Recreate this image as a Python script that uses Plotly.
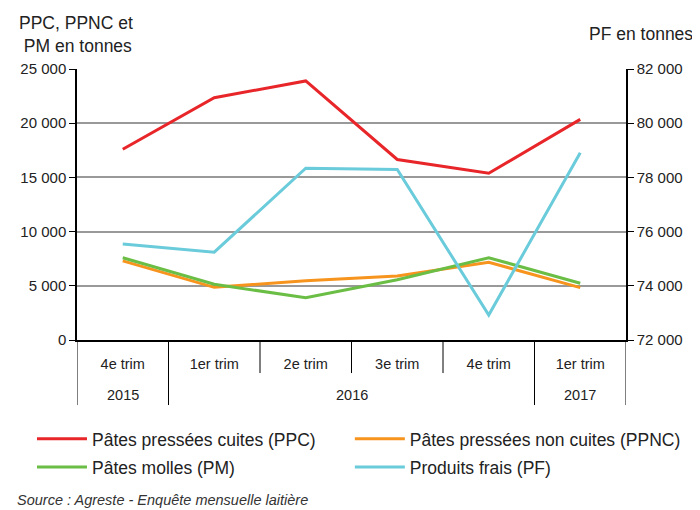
import plotly.graph_objects as go

years = ["2015", "2016", "2016", "2016", "2016", "2017"]
quarters = ["4e trim", "1er trim", "2e trim", "3e trim", "4e trim", "1er trim"]

ppc = [17600, 22350, 23900, 16650, 15380, 20350]
ppnc = [7300, 4860, 5470, 5900, 7170, 4830]
pm = [7590, 5140, 3900, 5560, 7590, 5230]
pf = [75540, 75240, 78340, 78290, 72920, 78910]

left_ticks = [0, 5000, 10000, 15000, 20000, 25000]
right_ticks = [72000, 74000, 76000, 78000, 80000, 82000]

xpos = list(range(len(quarters)))
FONT = "Liberation Sans, Arial, sans-serif"
TXT = "#222"

fig = go.Figure()
fig.add_trace(go.Scatter(x=xpos, y=ppc, mode="lines", name="Pâtes pressées cuites (PPC)",
                         line=dict(color="#E8262A", width=3), legend="legend"))
fig.add_trace(go.Scatter(x=xpos, y=ppnc, mode="lines", name="Pâtes pressées non cuites (PPNC)",
                         line=dict(color="#F7941D", width=3), legend="legend2"))
fig.add_trace(go.Scatter(x=xpos, y=pm, mode="lines", name="Pâtes molles (PM)",
                         line=dict(color="#6BBE45", width=3), legend="legend3"))
fig.add_trace(go.Scatter(x=xpos, y=pf, mode="lines", name="Produits frais (PF)",
                         line=dict(color="#6ACBDB", width=3), yaxis="y2", legend="legend4"))

leg_common = dict(orientation="h", xanchor="left", yanchor="middle",
                  itemwidth=50, font=dict(size=17.5, color=TXT),
                  bgcolor="rgba(0,0,0,0)")
COL1, COL2 = -0.082, 0.497
ROW1, ROW2 = -0.365, -0.469

fig.update_layout(
    width=700, height=510,
    margin=dict(l=69, r=82, t=61, b=178, autoexpand=False),
    paper_bgcolor="white", plot_bgcolor="white",
    separators=", ",
    font=dict(family=FONT, size=14, color=TXT),
    showlegend=True,
    legend=dict(x=COL1, y=ROW1, **leg_common),
    legend2=dict(x=COL2, y=ROW1, **leg_common),
    legend3=dict(x=COL1, y=ROW2, **leg_common),
    legend4=dict(x=COL2, y=ROW2, **leg_common),
    xaxis=dict(range=[-0.5, len(quarters) - 0.5], tickvals=xpos, ticktext=quarters,
               showline=True, linecolor="black", linewidth=1.5, ticks="",
               showgrid=False, zeroline=False, automargin=False,
               tickfont=dict(size=14.5, color=TXT), ticklabelstandoff=10),
    yaxis=dict(range=[0, 25000], tickvals=left_ticks, tickformat=",d",
               showgrid=True, gridcolor="#999", gridwidth=1.5, zeroline=False,
               showline=True, linecolor="black", linewidth=1.5, automargin=False,
               ticks="outside", ticklen=6, tickcolor="black",
               tickfont=dict(size=15, color=TXT)),
    yaxis2=dict(range=[72000, 82000], tickvals=right_ticks, tickformat=",d",
                overlaying="y", side="right", showgrid=False, zeroline=False,
                showline=True, linecolor="black", linewidth=1.5, automargin=False,
                ticks="outside", ticklen=6, tickcolor="black",
                tickfont=dict(size=15, color=TXT)),
)

# category dividers: inner (between quarters) and outer (between years)
for i in range(len(quarters) + 1):
    bx = i - 0.5
    outer = i == 0 or i == len(quarters) or years[i] != years[i - 1]
    fig.add_shape(type="line", xref="x", yref="paper", x0=bx, x1=bx,
                  y0=0, y1=-0.24 if outer else -0.122,
                  line=dict(color="black", width=1))

# year labels centred on their groups
groups = []
for i, yr in enumerate(years):
    if groups and groups[-1][0] == yr:
        groups[-1][2] = i
    else:
        groups.append([yr, i, i])
for yr, a, b in groups:
    fig.add_annotation(text=yr, xref="x", yref="paper", x=(a + b) / 2, y=-0.203,
                       yanchor="middle", showarrow=False, font=dict(size=14.5, color=TXT))

fig.add_annotation(text="PPC, PPNC et<br> PM en tonnes", xref="paper", yref="paper",
                   x=-0.109, y=1.215, xanchor="left", yanchor="top", align="left",
                   showarrow=False, font=dict(size=17.5, color=TXT))
fig.add_annotation(text="PF en tonnes", xref="paper", yref="paper",
                   x=1.125, y=1.129, xanchor="right", yanchor="middle", align="right",
                   showarrow=False, font=dict(size=17.5, color=TXT))
fig.add_annotation(text="<i>Source : Agreste - Enquête mensuelle laitière</i>", xref="paper",
                   yref="paper", x=-0.113, y=-0.592, xanchor="left", yanchor="middle",
                   showarrow=False, font=dict(size=14.5, color="#333"))

# decorative frame (top band and left edge)
fig.add_shape(type="rect", xref="paper", yref="paper", x0=-0.2, x1=1.2,
              y0=1.240, y1=1.3, fillcolor="#F9B934", line_width=0, layer="above")
fig.add_shape(type="line", xref="paper", yref="paper", x0=-0.129, x1=-0.129,
              y0=-0.7, y1=1.25, line=dict(color="#F9B934", width=2))

fig.write_html("out.html")
